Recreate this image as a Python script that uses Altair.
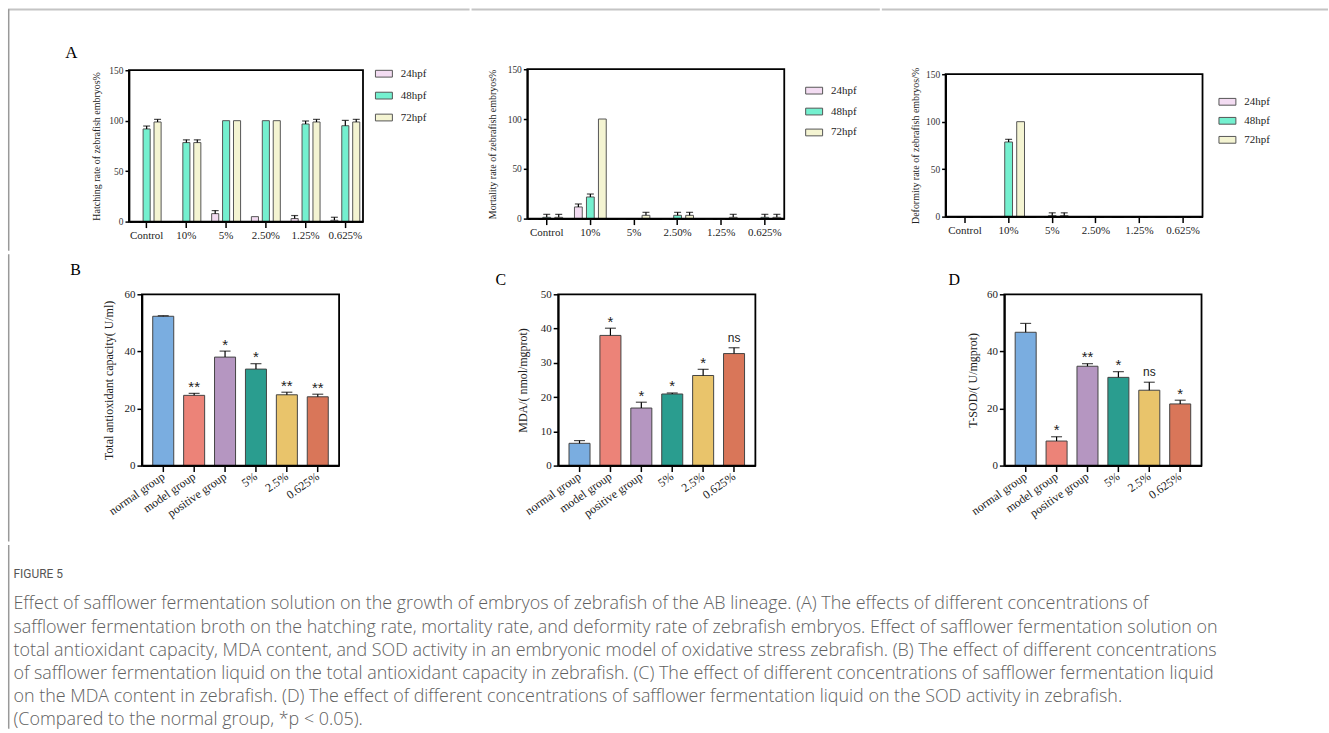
import altair as alt
import pandas as pd

# ---------------- data ----------------
times = ["24hpf", "48hpf", "72hpf"]
conc_groups = ["Control", "10%", "5%", "2.50%", "1.25%", "0.625%"]

hatch_24 = [0, 0, 7.9, 4.9, 3.0, 1.3]
hatch_24_err = [0, 0, 3.0, 0, 3.0, 3.0]
hatch_48 = [91.8, 78.3, 100, 100, 96.7, 95.0]
hatch_48_err = [2.9, 2.7, 0, 0, 3.0, 5.3]
hatch_72 = [98.7, 78.3, 100, 100, 98.7, 98.7]
hatch_72_err = [2.6, 2.7, 0, 0, 2.6, 2.6]

mort_24 = [0, 11.7, 0, 0, 0, 0]
mort_24_err = [0, 3.0, 0, 0, 0, 0]
mort_48 = [1.3, 21.7, 0, 3.3, 0, 1.3]
mort_48_err = [3.0, 3.0, 0, 3.0, 0, 3.0]
mort_72 = [1.3, 100, 3.3, 3.3, 1.3, 1.3]
mort_72_err = [3.0, 0, 3.0, 3.0, 3.0, 3.0]

deform_24 = [0, 0, 0, 0, 0, 0]
deform_24_err = [0, 0, 0, 0, 0, 0]
deform_48 = [0, 78.6, 1.0, 0, 0, 0]
deform_48_err = [0, 2.8, 3.0, 0, 0, 0]
deform_72 = [0, 100, 1.0, 0, 0, 0]
deform_72_err = [0, 0, 3.0, 0, 0, 0]

ox_groups = ["normal group", "model group", "positive group", "5%", "2.5%", "0.625%"]
tac_values = [52.3, 24.6, 38.0, 33.8, 24.8, 24.1]
tac_err = [0.2, 0.7, 2.1, 1.9, 0.9, 0.9]
tac_sig = ["", "**", "*", "*", "**", "**"]
mda_values = [6.5, 38.0, 16.8, 20.9, 26.3, 32.7]
mda_err = [0.8, 2.1, 1.7, 0.3, 1.8, 1.7]
mda_sig = ["", "*", "*", "*", "*", "ns"]
sod_values = [46.7, 8.6, 34.8, 30.9, 26.4, 21.6]
sod_err = [3.1, 1.5, 0.9, 2.0, 2.8, 1.3]
sod_sig = ["", "*", "**", "*", "ns", "*"]

caption_title = "FIGURE 5"
caption_lines = [
    "Effect of safflower fermentation solution on the growth of embryos of zebrafish of the AB lineage. (A) The effects of different concentrations of",
    "safflower fermentation broth on the hatching rate, mortality rate, and deformity rate of zebrafish embryos. Effect of safflower fermentation solution on",
    "total antioxidant capacity, MDA content, and SOD activity in an embryonic model of oxidative stress zebrafish. (B) The effect of different concentrations",
    "of safflower fermentation liquid on the total antioxidant capacity in zebrafish. (C) The effect of different concentrations of safflower fermentation liquid",
    "on the MDA content in zebrafish. (D) The effect of different concentrations of safflower fermentation liquid on the SOD activity in zebrafish.",
    "(Compared to the normal group, *p < 0.05).",
]

# ---------------- style ----------------
SERIF = "Liberation Serif"
SANS = "Liberation Sans"
hpf_colors = ["#f3dcf2", "#74f0cf", "#f4f4d2"]
ox_colors = ["#7aade0", "#ec8378", "#b596c1", "#2a9d8f", "#e9c46b", "#d97659"]
BORDER_TOP = "#c4c4c4"
BORDER_LEFT = "#999999"
NOVIEW = alt.ViewBackground(stroke="transparent")
ONE = pd.DataFrame({"k": [0]})


def rect_layer(x0, x1, y0, y1, **mark):
    return alt.Chart(ONE).mark_rect(**mark).encode(
        x=alt.value(x0), x2=alt.value(x1), y=alt.value(y0), y2=alt.value(y1)
    )


def box_layer(box):
    x0, y0, x1, y1 = box
    return rect_layer(x0, x1, y0, y1, opacity=0)


def top_line_layer(box):
    x0, y0, x1, y1 = box
    return rect_layer(x0, x1, y0, y0 + 2, color=BORDER_TOP)


def left_line_layer(box):
    x0, y0, x1, y1 = box
    return alt.Chart(ONE).mark_rule(color=BORDER_LEFT, strokeWidth=1.5, strokeCap="butt").encode(
        x=alt.value(x0 + 0.75), y=alt.value(y0 + 0.75), y2=alt.value(y1 - 0.75))


def letter_layer(ch, x, y, size):
    return alt.Chart(ONE).mark_text(
        text=ch, align="left", baseline="alphabetic", font=SERIF, fontSize=size, color="black"
    ).encode(x=alt.value(x), y=alt.value(y))


def long_df(series, errs):
    rows = []
    for t, vals, es in zip(times, series, errs):
        for g, v, e in zip(conc_groups, vals, es):
            rows.append({"group": g, "time": t, "value": v, "err": e, "top": v + e})
    return pd.DataFrame(rows)


def hpf_panel(df, width, height, top, ytitle, title_x, lx, ly, row_pad, box, left_line=False,
              letter=None):
    xaxis = alt.Axis(labelAngle=0, labelFont=SERIF, labelFontSize=11, labelColor="#222",
                     tickSize=6, labelPadding=2, labelOverlap=False, title=None)
    x = alt.X("group:N", sort=conc_groups, title=None,
              scale=alt.Scale(paddingInner=0.2, paddingOuter=0.045), axis=xaxis)
    xo = alt.XOffset("time:N", sort=times,
                     scale=alt.Scale(paddingInner=0.35, paddingOuter=0.13))
    yaxis = alt.Axis(values=[0, 50, 100, 150], title=ytitle, titleFont=SERIF, titleFontSize=10,
                     titleFontWeight="normal", titleColor="#222", titleX=title_x,
                     titleY=(height + top) / 2, titleAngle=270, titleAlign="center",
                     titleBaseline="middle", labelFont=SERIF, labelFontSize=9.5,
                     labelColor="#333", tickSize=4, labelPadding=2)
    yscale = alt.Scale(domain=[0, 150], range=[height, top], nice=False)

    def yenc(f):
        return alt.Y(f + ":Q", scale=yscale, axis=yaxis, title=ytitle)

    base = alt.Chart(df)
    bars = base.mark_bar(stroke="#555", strokeWidth=1).encode(
        x=x, xOffset=xo, y=yenc("value"),
        color=alt.Color("time:N", sort=times,
                        scale=alt.Scale(domain=times, range=hpf_colors),
                        legend=alt.Legend(title=None, orient="none", legendX=lx, legendY=ly,
                                          direction="vertical",
                                          symbolType="M-1,-0.4H1V0.4H-1Z", symbolSize=289,
                                          symbolStrokeColor="#555", symbolStrokeWidth=1,
                                          symbolOpacity=1, labelFont=SERIF, labelFontSize=11,
                                          labelColor="#222", labelOffset=8,
                                          rowPadding=row_pad, padding=0)),
    )
    eb = base.transform_filter("datum.err > 0")
    rule = eb.mark_rule(color="black", strokeWidth=1.2).encode(
        x=x, xOffset=xo, y=yenc("value"), y2="top:Q")
    cap = eb.mark_tick(color="black", thickness=1.2, size=7, orient="horizontal").encode(
        x=x, xOffset=xo, y=yenc("top"))
    frame = rect_layer(0, width, top, height, fillOpacity=0, stroke="black", strokeWidth=1.8)
    layers = [box_layer(box), bars, rule, cap, frame, top_line_layer(box)]
    if letter is not None:
        layers.append(letter)
    if left_line:
        layers.append(left_line_layer(box))
    return alt.layer(*layers).properties(width=width, height=height, view=NOVIEW)


def ox_panel(values, errs, sigs, ymax, yticks, ytitle, title_x, box, letter, shift=0,
             left_line=False):
    df = pd.DataFrame({"group": ox_groups, "value": values, "err": errs,
                       "top": [v + e for v, e in zip(values, errs)], "sig": sigs})
    width = 198 + shift
    xaxis = alt.Axis(labelAngle=325, labelAlign="right", labelBaseline="middle",
                     labelFont=SERIF, labelFontSize=12, labelColor="#222", tickSize=6,
                     labelPadding=3, labelOverlap=False, title=None)
    x = alt.X("group:N", sort=ox_groups, title=None,
              scale=alt.Scale(range=[shift, width], paddingInner=0.32, paddingOuter=0.35),
              axis=xaxis)
    yaxis = alt.Axis(values=yticks, title=ytitle, titleFont=SERIF, titleFontSize=12,
                     titleFontWeight="normal", titleColor="#222", titleX=title_x,
                     titleY=86, titleAngle=270, titleAlign="center", titleBaseline="middle",
                     labelFont=SERIF, labelFontSize=11, labelColor="#222", tickSize=5,
                     labelPadding=2, offset=-shift)
    yscale = alt.Scale(domain=[0, ymax], nice=False)

    def yenc(f):
        return alt.Y(f + ":Q", scale=yscale, axis=yaxis, title=ytitle)

    base = alt.Chart(df)
    bars = base.mark_bar(stroke="#444", strokeWidth=1).encode(
        x=x, y=yenc("value"),
        color=alt.Color("group:N", scale=alt.Scale(domain=ox_groups, range=ox_colors), legend=None),
    )
    rule = base.mark_rule(color="black", strokeWidth=1.2).encode(x=x, y=yenc("value"), y2="top:Q")
    cap = base.mark_tick(color="black", thickness=1.2, size=11, orient="horizontal").encode(
        x=x, y=yenc("top"))
    stars = base.transform_filter("datum.sig != '' && datum.sig != 'ns'").mark_text(
        font=SANS, fontSize=15, baseline="alphabetic", align="center", dy=-1.5, color="#222"
    ).encode(x=x, y=yenc("top"), text="sig:N")
    ns = base.transform_filter("datum.sig == 'ns'").mark_text(
        font=SANS, fontSize=12, baseline="alphabetic", align="center", dy=-6, color="#222"
    ).encode(x=x, y=yenc("top"), text="sig:N")
    frame = rect_layer(shift, width, 0, 172, fillOpacity=0, stroke="black", strokeWidth=1.8)
    layers = [box_layer(box), bars, rule, cap, stars, ns, frame, letter]
    if left_line:
        layers.append(left_line_layer(box))
    return alt.layer(*layers).properties(width=width, height=172, view=NOVIEW)


# ---------------- row 1 (origin = page (128, 67)) ----------------
A1 = hpf_panel(long_df([hatch_24, hatch_48, hatch_72], [hatch_24_err, hatch_48_err, hatch_72_err]),
               235, 153, 1, "Hatching rate of zebrafish embryos%", -33, 247, -4.5, 7,
               (-121.5, -61, 342, 183), left_line=True, letter=letter_layer("A", -64, -11, 17))
A2 = hpf_panel(long_df([mort_24, mort_48, mort_72], [mort_24_err, mort_48_err, mort_72_err]),
               258, 150, 0, "Mortality rate of zebrafish embryos%", -34.5, 279, 12.5, 6,
               (-56, -61, 354, 183))
A3 = hpf_panel(long_df([deform_24, deform_48, deform_72], [deform_24_err, deform_48_err, deform_72_err]),
               258, 148, 5, "Deformity rate of zebrafish embryos/%", -30.5, 274, 23.7, 4.1,
               (-64, -61, 384, 183))

# ---------------- row 2 (origin = page (128, 291); B plot starts 13 px right) ----------------
B = ox_panel(tac_values, tac_err, tac_sig, 60, [0, 20, 40, 60], "Total antioxidant capacity( U/ml)",
             -33.5, (-121.5, -41, 322, 249), letter_layer("B", -59, -19, 16), shift=13,
             left_line=True)
C = ox_panel(mda_values, mda_err, mda_sig, 50, [0, 10, 20, 30, 40, 50], "MDA/( nmol/mgprot)",
             -36, (-107, -41, 303, 249), letter_layer("C", -63, -9, 16))
D = ox_panel(sod_values, sod_err, sod_sig, 60, [0, 20, 40, 60], "T-SOD/( U/mgprot)",
             -32, (-143, -41, 325, 249), letter_layer("D", -56, -9, 16))

# ---------------- caption (origin = page (128, 540)) ----------------
cap_box = (-121.5, 0, 1200, 186)
cap_df = pd.DataFrame({"line": list(range(len(caption_lines))), "text": caption_lines})
cap_lines = alt.Chart(cap_df).mark_text(
    align="left", baseline="alphabetic", font="Open Sans", fontSize=18, fontWeight=300,
    color="#606060"
).encode(
    x=alt.value(-116),
    y=alt.Y("line:Q", axis=None, scale=alt.Scale(domain=[0, 5], range=[65.5, 181.5], nice=False, zero=False)),
    text="text:N",
)
cap_head = alt.Chart(pd.DataFrame({"t": [caption_title]})).mark_text(
    align="left", baseline="alphabetic", font="Roboto", fontSize=12, color="#555555"
).encode(x=alt.value(-116), y=alt.value(33.5), text="t:N")
caption = alt.layer(box_layer(cap_box), cap_head, cap_lines, left_line_layer(cap_box)).properties(
    width=1200, height=186, view=NOVIEW)


def hc(*charts):
    return alt.hconcat(*charts, spacing=0).resolve_scale(
        color="independent", x="independent", y="independent", xOffset="independent"
    ).resolve_legend(color="independent")


row1 = hc(A1, A2, A3)
row2 = hc(B, C, D)

chart = alt.vconcat(row1, row2, caption, spacing=0).resolve_scale(
    color="independent", x="independent", y="independent", xOffset="independent"
).resolve_legend(color="independent").properties(
    padding={"left": 6.5, "top": 6, "right": 0, "bottom": 0}, background="white"
).configure_view(stroke="black", strokeWidth=1.8).configure_axis(
    grid=False, domainColor="black", domainWidth=1.8, tickColor="black", tickWidth=1.5
)

chart.save("out.html", embed_options={"renderer": "svg", "actions": False})
